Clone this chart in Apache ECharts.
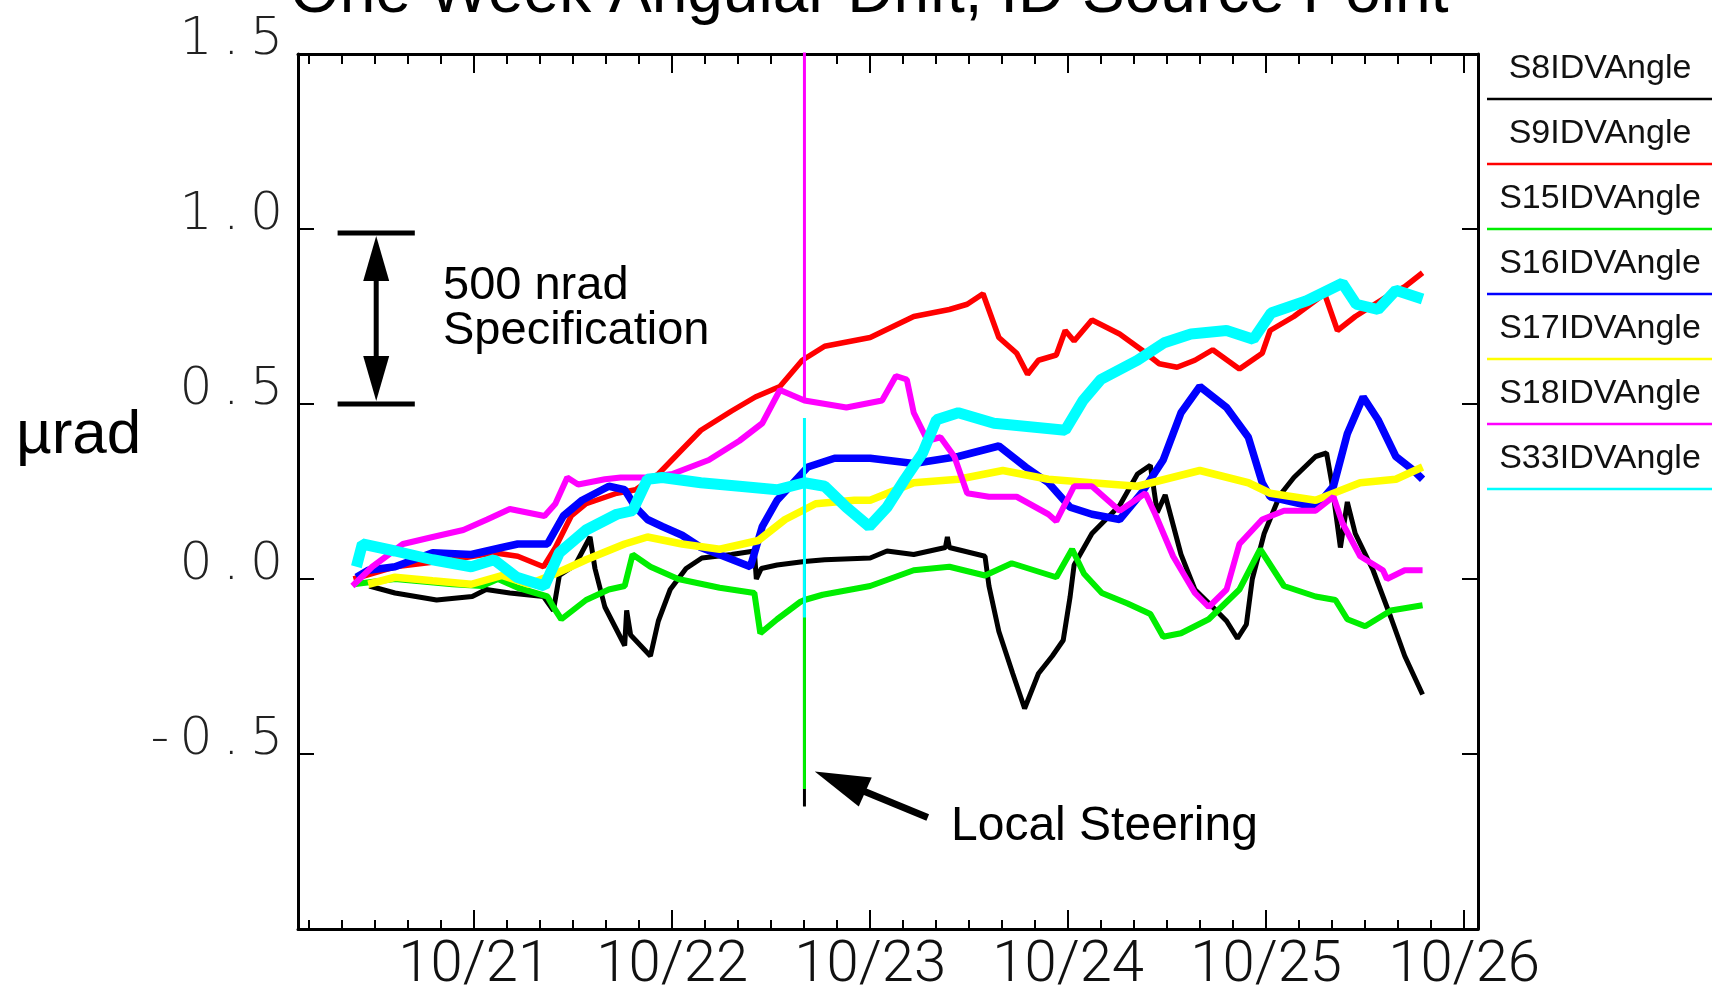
<!DOCTYPE html>
<html>
<head>
<meta charset="utf-8">
<title>One Week Angular Drift, ID Source Point</title>
<script src="https://cdn.jsdelivr.net/npm/echarts@6/dist/echarts.min.js"></script>
<style>
  html, body { margin: 0; padding: 0; background: #fff; }
  #chart { width: 1718px; height: 1000px; }
</style>
</head>
<body>
<div id="chart"></div>
<script>
// x = days counted from 10/20 00:00, y = angle in µrad
var seriesNames = ['S8IDVAngle', 'S9IDVAngle', 'S15IDVAngle', 'S16IDVAngle', 'S17IDVAngle', 'S18IDVAngle', 'S33IDVAngle']
var seriesColors = ['#000000', '#ff0000', '#00ee00', '#0000ff', '#ffff00', '#ff00ff', '#00ffff']
var lineWidths = [5, 5.5, 6, 7.5, 7.5, 6, 11]
var xTickDays = [1, 2, 3, 4, 5, 6]
var xTickLabels = ['10/21', '10/22', '10/23', '10/24', '10/25', '10/26']
var yTickValues = [-0.5, 0, 0.5, 1, 1.5]

var s8 = [[0.47,-0.02],[0.6,-0.04],[0.81,-0.06],[0.99,-0.05],[1.06,-0.03],[1.18,-0.04],[1.35,-0.05],[1.40,-0.09],[1.43,0.01],[1.51,0.04],[1.585,0.12],[1.61,0.03],[1.66,-0.08],[1.76,-0.19],[1.77,-0.09],[1.79,-0.16],[1.89,-0.22],[1.93,-0.12],[1.99,-0.03],[2.07,0.03],[2.15,0.06],[2.30,0.07],[2.415,0.08],[2.425,0.0],[2.45,0.03],[2.53,0.04],[2.668,0.05],[2.77,0.055],[3.0,0.06],[3.085,0.08],[3.22,0.07],[3.38,0.09],[3.39,0.12],[3.40,0.09],[3.58,0.065],[3.60,-0.02],[3.65,-0.15],[3.72,-0.27],[3.78,-0.37],[3.85,-0.27],[3.92,-0.22],[3.975,-0.175],[4.01,-0.05],[4.03,0.04],[4.12,0.13],[4.19,0.17],[4.26,0.21],[4.35,0.30],[4.415,0.325],[4.45,0.19],[4.49,0.24],[4.57,0.07],[4.64,-0.03],[4.73,-0.08],[4.80,-0.12],[4.855,-0.17],[4.90,-0.13],[4.93,0.0],[4.99,0.13],[5.07,0.24],[5.14,0.29],[5.25,0.35],[5.305,0.36],[5.33,0.28],[5.375,0.09],[5.41,0.22],[5.45,0.13],[5.54,0.025],[5.63,-0.11],[5.70,-0.22],[5.79,-0.33]]
var s9 = [[0.39,0.0],[0.6,0.035],[0.89,0.055],[1.10,0.075],[1.22,0.065],[1.35,0.035],[1.41,0.09],[1.49,0.18],[1.565,0.215],[1.72,0.245],[1.815,0.255],[1.93,0.30],[2.05,0.37],[2.145,0.425],[2.30,0.48],[2.42,0.52],[2.544,0.55],[2.657,0.625],[2.77,0.665],[3.0,0.69],[3.22,0.75],[3.40,0.77],[3.49,0.785],[3.57,0.815],[3.65,0.69],[3.74,0.645],[3.795,0.585],[3.85,0.625],[3.94,0.64],[3.985,0.71],[4.03,0.68],[4.12,0.74],[4.26,0.70],[4.37,0.655],[4.46,0.615],[4.55,0.605],[4.64,0.625],[4.73,0.655],[4.865,0.60],[4.98,0.645],[5.02,0.71],[5.14,0.75],[5.295,0.815],[5.36,0.71],[5.45,0.75],[5.59,0.80],[5.70,0.835],[5.79,0.875]]
var s15 = [[0.39,-0.015],[0.6,0.0],[0.89,-0.015],[1.04,-0.02],[1.12,0.0],[1.22,-0.025],[1.37,-0.05],[1.40,-0.08],[1.44,-0.115],[1.565,-0.06],[1.68,-0.03],[1.76,-0.02],[1.80,0.07],[1.89,0.035],[2.03,0.0],[2.24,-0.025],[2.415,-0.04],[2.445,-0.155],[2.53,-0.115],[2.648,-0.065],[2.668,-0.06],[2.76,-0.045],[3.0,-0.02],[3.22,0.025],[3.40,0.035],[3.58,0.01],[3.715,0.045],[3.94,0.005],[4.02,0.085],[4.08,0.015],[4.17,-0.04],[4.30,-0.07],[4.415,-0.10],[4.48,-0.165],[4.57,-0.155],[4.71,-0.115],[4.865,-0.03],[4.97,0.085],[5.09,-0.02],[5.25,-0.05],[5.35,-0.06],[5.41,-0.115],[5.50,-0.135],[5.63,-0.09],[5.79,-0.075]]
var s16 = [[0.405,0.005],[0.465,0.025],[0.6,0.035],[0.79,0.075],[0.985,0.07],[1.14,0.09],[1.22,0.10],[1.37,0.10],[1.45,0.18],[1.545,0.225],[1.68,0.265],[1.76,0.255],[1.815,0.205],[1.875,0.17],[1.95,0.15],[2.05,0.125],[2.145,0.09],[2.26,0.065],[2.395,0.035],[2.455,0.15],[2.53,0.225],[2.685,0.32],[2.82,0.345],[3.0,0.345],[3.22,0.33],[3.445,0.35],[3.65,0.38],[3.695,0.36],[3.785,0.32],[3.90,0.275],[4.01,0.205],[4.12,0.185],[4.26,0.17],[4.37,0.245],[4.48,0.34],[4.57,0.475],[4.665,0.55],[4.80,0.49],[4.91,0.405],[4.98,0.275],[5.02,0.235],[5.25,0.205],[5.34,0.265],[5.41,0.415],[5.49,0.52],[5.565,0.455],[5.655,0.35],[5.745,0.31],[5.79,0.285]]
var s17 = [[0.465,-0.015],[0.6,0.005],[0.79,-0.005],[0.985,-0.015],[1.14,0.01],[1.275,-0.015],[1.41,0.015],[1.565,0.055],[1.76,0.10],[1.875,0.12],[2.05,0.10],[2.24,0.085],[2.435,0.11],[2.57,0.17],[2.725,0.215],[2.92,0.225],[3.0,0.225],[3.22,0.275],[3.445,0.285],[3.67,0.31],[3.90,0.285],[4.12,0.275],[4.35,0.265],[4.665,0.31],[4.91,0.275],[5.02,0.245],[5.25,0.225],[5.475,0.275],[5.655,0.285],[5.79,0.32]]
var s18 = [[0.385,-0.02],[0.485,0.035],[0.64,0.10],[0.79,0.12],[0.945,0.14],[1.065,0.17],[1.18,0.20],[1.355,0.18],[1.41,0.215],[1.47,0.29],[1.525,0.27],[1.66,0.285],[1.74,0.29],[1.875,0.29],[2.0,0.30],[2.185,0.34],[2.34,0.395],[2.455,0.445],[2.544,0.54],[2.668,0.51],[2.88,0.49],[3.06,0.51],[3.13,0.58],[3.185,0.57],[3.22,0.475],[3.29,0.395],[3.355,0.405],[3.425,0.35],[3.49,0.245],[3.60,0.235],[3.74,0.235],[3.90,0.185],[3.94,0.165],[4.03,0.265],[4.12,0.265],[4.26,0.195],[4.39,0.245],[4.44,0.185],[4.53,0.065],[4.64,-0.04],[4.71,-0.08],[4.80,-0.03],[4.865,0.10],[4.98,0.17],[5.09,0.195],[5.25,0.195],[5.34,0.235],[5.385,0.16],[5.475,0.065],[5.59,0.025],[5.61,0.0],[5.70,0.025],[5.79,0.025]]
var s33 = [[0.405,0.035],[0.435,0.10],[0.6,0.08],[0.79,0.055],[0.985,0.035],[1.10,0.055],[1.215,0.005],[1.355,-0.02],[1.43,0.075],[1.565,0.14],[1.72,0.185],[1.80,0.195],[1.875,0.285],[1.95,0.29],[2.145,0.275],[2.34,0.265],[2.53,0.255],[2.668,0.275],[2.77,0.265],[2.88,0.205],[2.995,0.15],[3.085,0.205],[3.175,0.285],[3.265,0.36],[3.335,0.455],[3.445,0.475],[3.625,0.445],[3.805,0.435],[3.985,0.425],[4.075,0.51],[4.165,0.57],[4.35,0.625],[4.485,0.675],[4.62,0.70],[4.80,0.71],[4.935,0.685],[5.025,0.76],[5.205,0.795],[5.385,0.845],[5.455,0.785],[5.565,0.77],[5.655,0.825],[5.79,0.80]]
var allData = [s8, s9, s15, s16, s17, s18, s33]

// short spikes at the local steering moment (drawn thin), per series index
var steerSpikes = [
  [0, [[2.668, 0.05], [2.668, -0.65]]],
  [2, [[2.668, -0.06], [2.668, -0.6]]],
  [5, [[2.668, 0.51], [2.668, 2.0]]],
  [6, [[2.668, 0.46], [2.668, -0.11]]]
]

// spec band and steering event, in data units
var specTop = 1.0
var specBottom = 0.5
var specDays = [0.31, 0.70]
var steeringTip = [2.72, -0.55]

var xMin = 0.11
var xMax = 6.07

// minor x ticks every 4 hours
var minorDays = []
for (var i = 1; i <= 36; i++) {
  if (i % 6 !== 0) minorDays.push(i / 6)
}

var labelFont = '"Liberation Sans", Arial, sans-serif'

function xAxisCfg (pos, ticks, len, withLine, withLabel) {
  return {
    type: 'value', position: pos, min: xMin, max: xMax,
    axisLine: { show: withLine, onZero: false, lineStyle: { color: '#000', width: 3 } },
    axisTick: { show: true, inside: true, length: len, customValues: ticks, lineStyle: { color: '#000', width: 2 } },
    axisLabel: withLabel ? {
      show: true, customValues: xTickDays, margin: 6,
      fontFamily: 'Roboto, sans-serif', fontWeight: 300, fontSize: 58, lineHeight: 63, color: '#111',
      formatter: function (v) { return xTickLabels[xTickDays.indexOf(Math.round(v))] }
    } : { show: false },
    splitLine: { show: false }
  }
}

var chart = echarts.init(document.getElementById('chart'))

var series = seriesNames.map(function (name, k) {
  return {
    name: name, type: 'line', data: allData[k],
    xAxisIndex: 0, yAxisIndex: 0,
    showSymbol: false, symbol: 'none',
    lineStyle: { color: seriesColors[k], width: lineWidths[k] },
    itemStyle: { color: seriesColors[k] },
    clip: true, z: 2 + k
  }
})
steerSpikes.forEach(function (sp) {
  var k = sp[0]
  series.push({
    name: seriesNames[k], type: 'line', data: sp[1],
    showSymbol: false, symbol: 'none',
    lineStyle: { color: seriesColors[k], width: 3 },
    clip: true, z: 10 + k
  })
})

chart.setOption({
  animation: false,
  backgroundColor: '#fff',
  grid: { left: 298, top: 54, width: 1180, height: 875, outerBoundsMode: 'none', containLabel: false },
  xAxis: [
    xAxisCfg('bottom', xTickDays, 19, true, true),
    xAxisCfg('bottom', minorDays, 9, false, false),
    xAxisCfg('top', xTickDays, 19, true, false),
    xAxisCfg('top', minorDays, 10, false, false)
  ],
  yAxis: [
    {
      type: 'value', position: 'left', min: -1, max: 1.5, interval: 0.5,
      axisLine: { show: true, onZero: false, lineStyle: { color: '#000', width: 3 } },
      axisTick: { show: true, inside: true, length: 16, lineStyle: { color: '#000', width: 2 } },
      axisLabel: {
        show: true, customValues: yTickValues, margin: 15,
        fontFamily: '"DejaVu Sans", sans-serif', fontWeight: 200, fontSize: 52, lineHeight: 28,
        verticalAlign: 'bottom', color: '#222',
        // the original labels are widely spaced
        formatter: function (v) { return v.toFixed(1).split('').join('\u2009') }
      },
      splitLine: { show: false }
    },
    {
      type: 'value', position: 'right', min: -1, max: 1.5, interval: 0.5,
      axisLine: { show: true, onZero: false, lineStyle: { color: '#000', width: 3 } },
      axisTick: { show: true, inside: true, length: 16, lineStyle: { color: '#000', width: 2 } },
      axisLabel: { show: false },
      splitLine: { show: false }
    }
  ],
  series: series
})

function px (pt) {
  return chart.convertToPixel({ xAxisIndex: 0, yAxisIndex: 0 }, pt)
}

var g = []

// title, mostly cut off at the top edge
g.push({ type: 'text', x: 290, y: -6, style: { text: 'One Week Angular Drift, ID Source Point', font: '64px ' + labelFont, fill: '#000', verticalAlign: 'middle' } })
// y axis name
g.push({ type: 'text', x: 16, y: 436, style: { text: 'µrad', font: '62px ' + labelFont, fill: '#000', verticalAlign: 'middle' } })

// legend: name above a coloured line
seriesNames.forEach(function (name, k) {
  var ly = 99 + k * 65
  g.push({ type: 'line', shape: { x1: 1487, y1: ly, x2: 1712, y2: ly }, style: { stroke: seriesColors[k], lineWidth: 2.5 } })
  g.push({ type: 'text', x: 1600, y: ly - 30, style: { text: name, font: '34px ' + labelFont, fill: '#111', align: 'center', verticalAlign: 'middle' } })
})

// 500 nrad specification marker
var a = px([specDays[0], specTop])
var b = px([specDays[1], specTop])
var c = px([specDays[0], specBottom])
var d = px([specDays[1], specBottom])
var mx = (a[0] + b[0]) / 2
g.push({ type: 'line', shape: { x1: a[0], y1: a[1] + 4, x2: b[0], y2: b[1] + 4 }, style: { stroke: '#000', lineWidth: 5 } })
g.push({ type: 'line', shape: { x1: c[0], y1: c[1], x2: d[0], y2: d[1] }, style: { stroke: '#000', lineWidth: 5 } })
g.push({ type: 'line', shape: { x1: mx, y1: a[1] + 40, x2: mx, y2: c[1] - 40 }, style: { stroke: '#000', lineWidth: 5 } })
g.push({ type: 'polygon', shape: { points: [[mx, a[1] + 7], [mx - 13, a[1] + 52], [mx + 13, a[1] + 52]] }, style: { fill: '#000' } })
g.push({ type: 'polygon', shape: { points: [[mx, c[1] - 3], [mx - 13, c[1] - 48], [mx + 13, c[1] - 48]] }, style: { fill: '#000' } })
g.push({ type: 'text', x: 443, y: 286, style: { text: '500 nrad', font: '47px ' + labelFont, fill: '#000', verticalAlign: 'middle' } })
g.push({ type: 'text', x: 443, y: 331, style: { text: 'Specification', font: '47px ' + labelFont, fill: '#000', verticalAlign: 'middle' } })

// local steering arrow
var t = px(steeringTip)
g.push({ type: 'line', shape: { x1: t[0] + 45, y1: t[1] + 18, x2: t[0] + 113, y2: t[1] + 46 }, style: { stroke: '#000', lineWidth: 7 } })
g.push({ type: 'polygon', shape: { points: [[t[0], t[1]], [t[0] + 57, t[1] + 6], [t[0] + 44, t[1] + 35]] }, style: { fill: '#000' } })
g.push({ type: 'text', x: 951, y: 827, style: { text: 'Local Steering', font: '48px ' + labelFont, fill: '#000', verticalAlign: 'middle' } })

chart.setOption({ graphic: g })
</script>
</body>
</html>
